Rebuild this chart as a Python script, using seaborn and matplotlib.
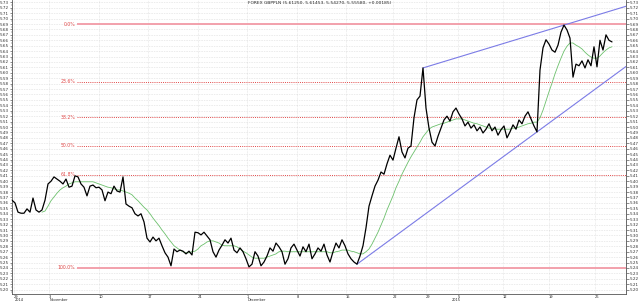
import matplotlib
matplotlib.use("Agg")
import matplotlib.pyplot as plt
import numpy as np
import pandas as pd
import seaborn as sns
from matplotlib.ticker import MultipleLocator, FormatStrFormatter
from matplotlib.transforms import blended_transform_factory

title_text = "FOREX GBPPLN (5.61250, 5.61453, 5.54270, 5.55580, +0.00185)"

# closing prices (one value per sampled bar)
price = [
    5.365, 5.360, 5.343, 5.341, 5.341, 5.349, 5.343, 5.369, 5.347, 5.343,
    5.347, 5.365, 5.395, 5.400, 5.408, 5.404, 5.400, 5.395, 5.404, 5.389,
    5.391, 5.410, 5.408, 5.395, 5.389, 5.373, 5.391, 5.393, 5.388, 5.389,
    5.384, 5.364, 5.380, 5.377, 5.391, 5.382, 5.380, 5.408, 5.358, 5.354,
    5.351, 5.340, 5.336, 5.340, 5.325, 5.295, 5.288, 5.297, 5.290, 5.295,
    5.281, 5.268, 5.260, 5.244, 5.275, 5.270, 5.273, 5.271, 5.266, 5.271,
    5.264, 5.306, 5.305, 5.301, 5.306, 5.299, 5.292, 5.270, 5.260, 5.273,
    5.282, 5.292, 5.286, 5.295, 5.273, 5.268, 5.277, 5.270, 5.257, 5.242,
    5.247, 5.270, 5.262, 5.244, 5.251, 5.262, 5.277, 5.271, 5.286, 5.279,
    5.270, 5.247, 5.257, 5.277, 5.284, 5.273, 5.262, 5.279, 5.270, 5.284,
    5.257, 5.266, 5.277, 5.271, 5.284, 5.264, 5.251, 5.270, 5.286, 5.277,
    5.292, 5.281, 5.266, 5.257, 5.251, 5.247, 5.262, 5.281, 5.314, 5.354,
    5.373, 5.391, 5.402, 5.417, 5.413, 5.432, 5.448, 5.439, 5.461, 5.482,
    5.454, 5.443, 5.461, 5.465, 5.517, 5.550, 5.557, 5.609, 5.535, 5.498,
    5.472, 5.465, 5.483, 5.498, 5.513, 5.520, 5.511, 5.528, 5.535, 5.524,
    5.515, 5.502, 5.509, 5.498, 5.504, 5.493, 5.500, 5.489, 5.496, 5.506,
    5.493, 5.500, 5.485, 5.495, 5.502, 5.480, 5.491, 5.504, 5.496, 5.513,
    5.506, 5.520, 5.528, 5.515, 5.502, 5.491, 5.605, 5.646, 5.661, 5.653,
    5.642, 5.638, 5.651, 5.675, 5.688, 5.679, 5.664, 5.592, 5.616, 5.613,
    5.622, 5.609, 5.624, 5.613, 5.648, 5.611, 5.660, 5.642, 5.670, 5.660, 5.657,
]

# moving average, starting at bar 10
ma_start = 10
moving_avg = [
    5.343, 5.345, 5.354, 5.364, 5.371, 5.378, 5.384, 5.388, 5.391, 5.395,
    5.397, 5.399, 5.399, 5.399, 5.399, 5.399, 5.399, 5.399, 5.397, 5.395,
    5.393, 5.391, 5.389, 5.388, 5.386, 5.384, 5.384, 5.382, 5.380, 5.378,
    5.375, 5.369, 5.364, 5.358, 5.352, 5.347, 5.340, 5.332, 5.325, 5.318,
    5.310, 5.303, 5.295, 5.288, 5.281, 5.277, 5.273, 5.270, 5.268, 5.268,
    5.270, 5.271, 5.275, 5.281, 5.284, 5.288, 5.290, 5.290, 5.288, 5.286,
    5.282, 5.281, 5.281, 5.281, 5.281, 5.279, 5.275, 5.271, 5.268, 5.264,
    5.260, 5.258, 5.258, 5.258, 5.258, 5.260, 5.262, 5.264, 5.266, 5.270,
    5.271, 5.271, 5.270, 5.270, 5.270, 5.270, 5.270, 5.270, 5.270, 5.270,
    5.270, 5.270, 5.270, 5.270, 5.270, 5.270, 5.268, 5.268, 5.270, 5.271,
    5.273, 5.273, 5.273, 5.271, 5.270, 5.268, 5.266, 5.266, 5.270, 5.275,
    5.284, 5.295, 5.306, 5.319, 5.332, 5.347, 5.360, 5.373, 5.388, 5.400,
    5.413, 5.424, 5.435, 5.445, 5.454, 5.463, 5.472, 5.482, 5.489, 5.496,
    5.500, 5.502, 5.504, 5.506, 5.507, 5.509, 5.511, 5.513, 5.515, 5.515,
    5.515, 5.513, 5.511, 5.509, 5.507, 5.506, 5.504, 5.502, 5.500, 5.498,
    5.498, 5.496, 5.496, 5.496, 5.496, 5.496, 5.496, 5.498, 5.498, 5.500,
    5.502, 5.504, 5.506, 5.507, 5.509, 5.509, 5.517, 5.531, 5.548, 5.565,
    5.581, 5.598, 5.613, 5.627, 5.640, 5.649, 5.655, 5.655, 5.651, 5.648,
    5.644, 5.638, 5.633, 5.629, 5.627, 5.627, 5.631, 5.637, 5.642, 5.646, 5.648,
]

week_ticks = [0.67, 12.33, 29, 45.33, 62, 78.33, 95, 111.33, 127, 138, 148.67, 163.67, 179, 194.33]
week_labels = ["29", "3", "10", "17", "24", "1", "8", "15", "22", "29", "5", "12", "19", "26"]
period_labels = ["2014", "November", "December", "2015"]
period_ticks = [0.67, 12.33, 78.33, 146.5]

fib_high = 5.69
fib_low = 5.24
fib_ratios = [0.0, 0.236, 0.382, 0.5, 0.618, 1.0]
fib_names = ["0.0%", "23.6%", "38.2%", "50.0%", "61.8%", "100.0%"]
fib_start_bar = 21.67

upper_trend_bars = [137, 184]
upper_trend_prices = [5.609, 5.688]
lower_trend_bars = [115, 175]
lower_trend_prices = [5.247, 5.491]

x_max = 204.67
y_min, y_max = 5.192, 5.7343

sns.set_style("white")
plt.rcParams["font.family"] = ["DejaVu Sans"]

fig = plt.figure(figsize=(6.4, 3.02), dpi=100)
ax = fig.add_axes([12 / 640, 8 / 302, 614 / 640, 294 / 302])

# fibonacci levels
span = fib_high - fib_low
for r, name in zip(fib_ratios, fib_names):
    lvl = fib_high - r * span
    if r in (0.0, 1.0):
        ax.plot([fib_start_bar, x_max], [lvl, lvl], color="#f29aa6", lw=1.3, solid_capstyle="butt", zorder=2)
    else:
        ax.plot([fib_start_bar, x_max], [lvl, lvl], color="#e04848", lw=0.7, ls=(0, (1, 1.2)), zorder=2.5)
    ax.text(fib_start_bar - 0.6, lvl, name, color="#e04848", fontsize=3.3, ha="right", va="center", zorder=3)

# trend lines
for bars, prices in ((upper_trend_bars, upper_trend_prices), (lower_trend_bars, lower_trend_prices)):
    slope = (prices[1] - prices[0]) / (bars[1] - bars[0])
    x_end = x_max
    y_end = prices[0] + slope * (x_end - bars[0])
    ax.plot([bars[0], x_end], [prices[0], y_end], color="#7b7be6", lw=0.8, zorder=4)

df_ma = pd.DataFrame({"bar": np.arange(ma_start, ma_start + len(moving_avg)), "ma": moving_avg})
sns.lineplot(data=df_ma, x="bar", y="ma", color="#6cc06c", lw=0.6, ax=ax, zorder=5, errorbar=None)

df = pd.DataFrame({"bar": np.arange(len(price)), "close": price})
sns.lineplot(data=df, x="bar", y="close", color="black", lw=0.9, ax=ax, zorder=6, errorbar=None)

ax.set_xlim(0, x_max)
ax.set_ylim(y_min, y_max)
ax.set_xlabel("")
ax.set_ylabel("")

# grid
ax.yaxis.set_major_locator(MultipleLocator(0.01))
ax.yaxis.set_minor_locator(MultipleLocator(0.005))
ax.yaxis.set_major_formatter(FormatStrFormatter("%.2f"))
ax.set_xticks(week_ticks)
ax.set_xticklabels(week_labels)
ax.grid(axis="y", which="major", color="#c4c4c4", lw=0.4, ls=(0, (1, 2)))
ax.grid(axis="x", which="major", color="#d0d0d0", lw=0.4, ls=(0, (1, 1.5)))
ax.set_axisbelow(True)

ax.tick_params(axis="y", which="major", left=True, right=True, labelleft=True, labelright=True,
               length=1.8, width=0.4, pad=0.6, labelsize=3.0, colors="#333333")
ax.tick_params(axis="y", which="minor", left=True, right=True, length=1.0, width=0.3, colors="#333333")
ax.tick_params(axis="x", which="major", direction="in", length=2.0, width=1.2, pad=0.4,
               labelsize=2.6, colors="#222222")
for lab in ax.get_xticklabels():
    lab.set_horizontalalignment("left")

trans = blended_transform_factory(ax.transData, fig.transFigure)
for t, lab in zip(period_ticks, period_labels):
    ax.text(t + 0.2, 0.0, lab, transform=trans, fontsize=2.5, ha="left", va="bottom", color="#222222")

for side in ("left", "right", "bottom"):
    ax.spines[side].set_visible(True)
    ax.spines[side].set_color("#555555")
    ax.spines[side].set_linewidth(0.6)
ax.spines["top"].set_visible(False)

ax.text((320 - 12) / 614, 0.996, title_text, transform=ax.transAxes, ha="center", va="top",
        fontsize=3.2, color="#222222")

fig.savefig("out.png", dpi=100)
